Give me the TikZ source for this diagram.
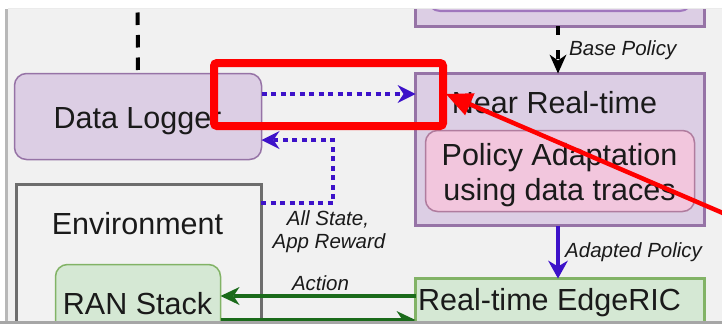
\documentclass[tikz,border=0pt]{standalone}
\usepackage{fontspec}
\setmainfont{Liberation Sans}
\usetikzlibrary{arrows.meta}

\definecolor{panelbg}{HTML}{F1F1F1}
\definecolor{purpfill}{HTML}{DCCEE4}
\definecolor{purpline}{HTML}{9673A6}
\definecolor{innerfill}{HTML}{D8C4E4}
\definecolor{innerline}{HTML}{A077BD}
\definecolor{pinkfill}{HTML}{F2C6DD}
\definecolor{pinkline}{HTML}{B07C9E}
\definecolor{grnfill}{HTML}{D5E8D4}
\definecolor{grnline}{HTML}{82B366}
\definecolor{envline}{HTML}{6D6D6D}
\definecolor{envfill}{HTML}{F2F2F2}
\definecolor{flowblue}{HTML}{3D12C9}
\definecolor{actgreen}{HTML}{1B6B1B}
\definecolor{inktext}{HTML}{1A1A1A}
\definecolor{markred}{HTML}{FF0000}

\begin{document}
\begin{tikzpicture}[x=1pt,y=-1pt,
  box/.style={anchor=north west,inner sep=0pt,outer sep=0pt},
  purplebox/.style={box,draw=purpline,fill=purpfill,line width=3pt},
  loggerbox/.style={box,draw=purpline,fill=purpfill,line width=1.5pt,rounded corners=12pt},
  pinkbox/.style={box,draw=pinkline,fill=pinkfill,line width=1.5pt,rounded corners=12pt},
  greenbox/.style={box,draw=grnline,fill=grnfill,line width=3pt},
  ranbox/.style={box,draw=grnline,fill=grnfill,line width=1.5pt,rounded corners=12pt},
  envbox/.style={box,draw=envline,fill=envfill,line width=3pt},
  big/.style={anchor=base,inner sep=0pt,text=inktext,font=\fontsize{30.5}{36}\selectfont},
  small/.style={inner sep=0pt,text=inktext,font=\fontsize{20.5}{24}\selectfont\itshape},
  dotflow/.style={draw=flowblue,line width=3.5pt,dash pattern=on 5pt off 4.5pt,
    -{Stealth[length=18pt,width=18pt,inset=6pt,line width=0pt]}},
  solidflow/.style={draw=flowblue,line width=4pt,
    -{Stealth[length=18pt,width=20pt,inset=6pt,line width=0pt]}},
  actflow/.style={draw=actgreen,line width=3.5pt,
    -{Stealth[length=19pt,width=18pt,inset=6pt,line width=0pt]}},
  blackdash/.style={draw=black,line width=4pt,dash pattern=on 12.5pt off 10pt},
  redbox/.style={box,draw=markred,line width=8pt,rounded corners=3pt},
  redarrow/.style={draw=markred,line width=4.5pt,
    -{Triangle[length=26pt,width=24pt,line width=0pt]}}
]
\useasboundingbox (0,0) rectangle (722,324);
\fill[white] (0,0) rectangle (722,324);
\clip (0,0) rectangle (722,324);

% page panel and its edge shadow
\fill[black!28] (5,9) rectangle (8,321);
\fill[black!8] (8,8) rectangle (722,9);
\fill[panelbg] (8,9) rectangle (722,321);

\begin{scope}
\clip (8,9) rectangle (722,321);

% upper policy block (only its lower edge shows)
\node[purplebox,minimum width=289pt,minimum height=76pt] (top) at (415.5,-50) {};
\node[box,draw=innerline,fill=innerfill,line width=2pt,rounded corners=12pt,
      minimum width=264pt,minimum height=50pt] (topinner) at (428,-39) {};

% data logger
\node[loggerbox,minimum width=247pt,minimum height=86pt] (dl) at (14.5,73.5) {};
\node[big] (dltext) at (137.5,128) {Data Logger};
\coordinate (feed) at (137.5,-10);
\draw[blackdash] (feed) -- (dl.north);

% near real-time block
\node[purplebox,minimum width=289pt,minimum height=152pt] (nrt) at (415.5,73.5) {};
\node[big] (nrttext) at (554.5,113) {Near Real-time};
\node[pinkbox,minimum width=269pt,minimum height=81pt] (pa) at (425.5,130.5) {};
\node[big] (patext1) at (559.5,165) {Policy Adaptation};
\node[big] (patext2) at (559.5,200) {using data traces};

% environment and RAN stack
\node[envbox,minimum width=245pt,minimum height=200pt] (env) at (16,184) {};
\node[big] (envtext) at (137.5,234) {Environment};
\node[ranbox,minimum width=165pt,minimum height=100pt] (ran) at (55.5,264.5) {};
\node[big] (rantext) at (137.5,314) {RAN Stack};

% real-time EdgeRIC
\node[greenbox,minimum width=289pt,minimum height=80pt] (edge) at (415.5,278.5) {};
\node[big] (edgetext) at (549.5,310) {Real-time EdgeRIC};

% connectors
\draw[blackdash,dash pattern=on 9pt off 15pt,
      -{Stealth[length=19pt,width=17pt,inset=6pt,line width=0pt]}]
  ([xshift=-2pt]top.south) -- ([xshift=-2pt]nrt.north);
\node[small,anchor=base west] (bp) at (569,55) {Base Policy};

\draw[dotflow] (dl.east |- 0,94) -- (nrt.west |- 0,94);
\draw[dotflow] (env.east |- 0,203) -| (333,171) |- (dl.east |- 0,140);
\node[small,anchor=base] (st1) at (328,225) {All State,};
\node[small,anchor=base] (st2) at (329,248) {App Reward};

\draw[solidflow] ([xshift=-2pt]nrt.south) -- ([xshift=-2pt]edge.north);
\node[small,anchor=base west] (ap) at (565,257) {Adapted Policy};

\draw[actflow] (edge.west |- 0,296) -- (ran.east |- 0,296);
\node[small,anchor=base] (act) at (320.5,290) {Action};
\draw[actflow] (ran.east |- 0,320) -- (edge.west |- 0,320);
\end{scope}

% lower edge of the page
\fill[black!35] (0,321) rectangle (722,324);

% highlight marks
\node[redbox,minimum width=229pt,minimum height=63pt] (hl) at (214,63) {};
\coordinate (pointer) at (446,94);
\coordinate (tail) at (780,237.6);
\draw[redarrow] (tail) -- (pointer);
\end{tikzpicture}
\end{document}
